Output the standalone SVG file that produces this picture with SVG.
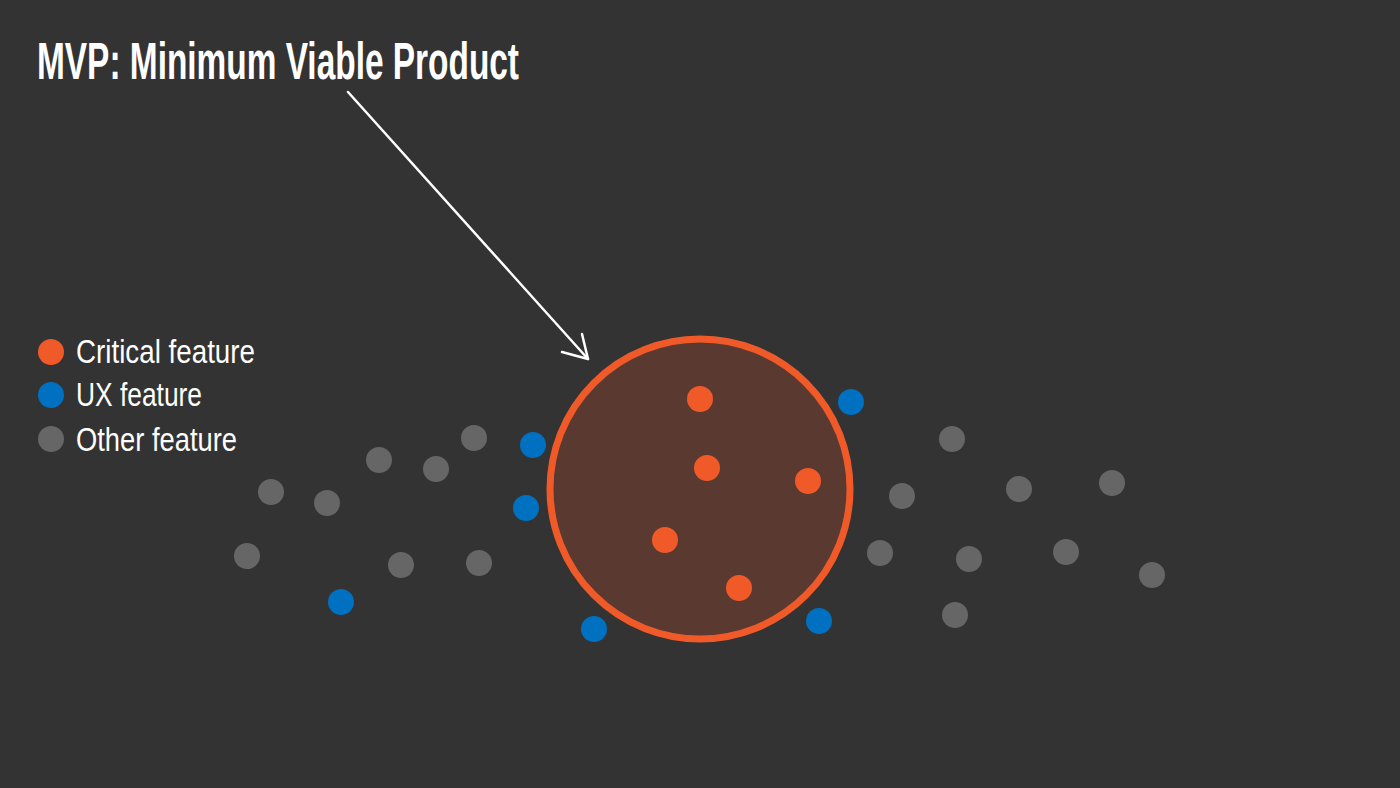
<svg xmlns="http://www.w3.org/2000/svg" width="1400" height="788" viewBox="0 0 1400 788">
<style>
.t{font-family:"Liberation Sans",Arial,sans-serif;fill:#ffffff}
.crit{fill:#f05a28}
.ux{fill:#0070c0}
.oth{fill:#666666}
.arr{stroke:#ffffff;stroke-width:2.5;fill:none;stroke-linecap:round;stroke-linejoin:round}
</style>
<rect width="1400" height="788" fill="#333333"/>
<g id="title"><text class="t" x="37" y="79" font-size="51" font-weight="bold" textLength="482" lengthAdjust="spacingAndGlyphs">MVP: Minimum Viable Product</text></g>
<g id="legend">
<circle class="crit" cx="51" cy="352" r="13"/>
<text class="t" x="76" y="363" font-size="34" textLength="179" lengthAdjust="spacingAndGlyphs">Critical feature</text>
<circle class="ux" cx="51" cy="395" r="13"/>
<text class="t" x="76" y="406" font-size="34" textLength="126" lengthAdjust="spacingAndGlyphs">UX feature</text>
<circle class="oth" cx="51" cy="439" r="13"/>
<text class="t" x="76" y="451" font-size="34" textLength="161" lengthAdjust="spacingAndGlyphs">Other feature</text>
</g>
<g id="mvp">
<circle cx="700" cy="489" r="150" fill="#5a3a30" stroke="#f05a28" stroke-width="7"/>
</g>
<g id="connectors">
<line class="arr" x1="348" y1="92" x2="588" y2="359"/>
<polyline class="arr" points="562,352 588,359 582,334"/>
</g>
<g id="critical">
<circle class="crit" cx="700" cy="399" r="13"/>
<circle class="crit" cx="707" cy="468" r="13"/>
<circle class="crit" cx="808" cy="481" r="13"/>
<circle class="crit" cx="665" cy="540" r="13"/>
<circle class="crit" cx="739" cy="588" r="13"/>
</g>
<g id="ux">
<circle class="ux" cx="851" cy="402" r="13"/>
<circle class="ux" cx="533" cy="445" r="13"/>
<circle class="ux" cx="526" cy="508" r="13"/>
<circle class="ux" cx="594" cy="629" r="13"/>
<circle class="ux" cx="819" cy="621" r="13"/>
<circle class="ux" cx="341" cy="602" r="13"/>
</g>
<g id="other">
<circle class="oth" cx="271" cy="492" r="13"/>
<circle class="oth" cx="327" cy="503" r="13"/>
<circle class="oth" cx="379" cy="460" r="13"/>
<circle class="oth" cx="436" cy="469" r="13"/>
<circle class="oth" cx="474" cy="438" r="13"/>
<circle class="oth" cx="247" cy="556" r="13"/>
<circle class="oth" cx="401" cy="565" r="13"/>
<circle class="oth" cx="479" cy="563" r="13"/>
<circle class="oth" cx="952" cy="439" r="13"/>
<circle class="oth" cx="902" cy="496" r="13"/>
<circle class="oth" cx="1019" cy="489" r="13"/>
<circle class="oth" cx="1112" cy="483" r="13"/>
<circle class="oth" cx="880" cy="553" r="13"/>
<circle class="oth" cx="969" cy="559" r="13"/>
<circle class="oth" cx="1066" cy="552" r="13"/>
<circle class="oth" cx="1152" cy="575" r="13"/>
<circle class="oth" cx="955" cy="615" r="13"/>
</g>
</svg>
